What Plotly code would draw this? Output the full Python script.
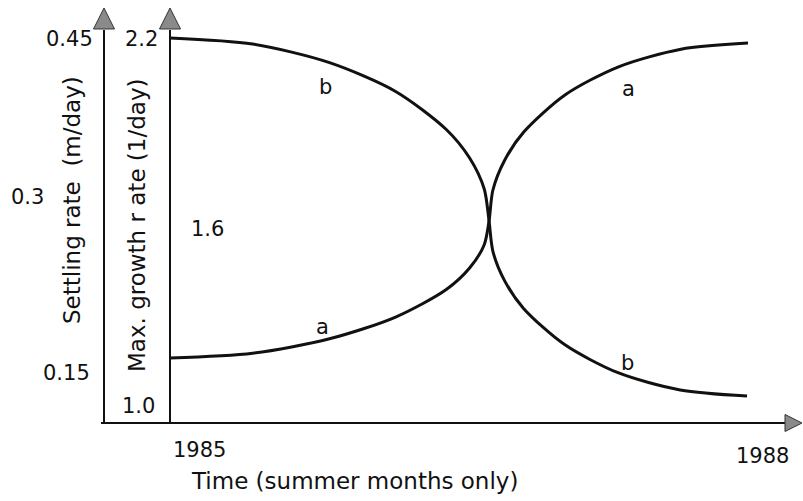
import plotly.graph_objects as go

# ---------------- data ----------------
# curve a : rises from 1985 to 1988 (growth-rate scale, 1/day)
a_time = [1985.000, 1985.429, 1985.828, 1986.171, 1986.434, 1986.556, 1986.631, 1986.656,
          1986.676, 1986.737, 1986.836, 1987.050, 1987.328, 1987.652, 1988.000]
a_value = [1.200, 1.215, 1.260, 1.328, 1.414, 1.482, 1.554, 1.628,
           1.725, 1.818, 1.906, 2.022, 2.110, 2.165, 2.184]
# curve b : falls from 1985 to 1988
b_time = [1985.000, 1985.429, 1985.828, 1986.171, 1986.434, 1986.556, 1986.631, 1986.656,
          1986.676, 1986.737, 1986.835, 1987.048, 1987.325, 1987.648, 1987.995]
b_value = [2.200, 2.181, 2.123, 2.033, 1.914, 1.824, 1.728, 1.628,
           1.533, 1.441, 1.355, 1.242, 1.154, 1.100, 1.081]

curve_names = ["a", "b"]
growth_ticks = ["2.2", "1.6", "1.0"]
settling_ticks = ["0.45", "0.3", "0.15"]
year_ticks = ["1985", "1988"]
x_title = "Time (summer months only)"
settling_title = "Settling rate  (m/day)"
growth_title = "Max. growth r ate (1/day)"

# ---------------- geometry ----------------
W, H = 803, 501
PX_PER_YEAR = 192.67
PX_PER_UNIT = 320.0
X0_PX, Y0_PX = 170.0, 422.0          # pixel of (1985, 1.0)

def px2x(px):
    return 1985 + (px - X0_PX) / PX_PER_YEAR

def py2y(py):
    return 1.0 + (Y0_PX - py) / PX_PER_UNIT

FONT = "DejaVu Sans, Verdana, sans-serif"
FS_TICK = 21
FS_TITLE = 23
BLACK = "#111111"

fig = go.Figure()

# axis lines
outer_x = px2x(104)
inner_x = 1985.0
base_y = py2y(423)
top_y = py2y(8)
right_x = px2x(802)
left_x = px2x(101)

for xs, ys in [([outer_x, outer_x], [base_y, py2y(30)]),
               ([inner_x, inner_x], [base_y, py2y(30)]),
               ([left_x, px2x(788)], [base_y, base_y])]:
    fig.add_trace(go.Scatter(x=xs, y=ys, mode="lines",
                             line=dict(color=BLACK, width=2),
                             hoverinfo="skip", showlegend=False))

# arrow heads
fig.add_trace(go.Scatter(x=[outer_x, inner_x], y=[top_y, top_y], mode="markers",
                         marker=dict(symbol="arrow-up", size=21, color="#8a8a8a",
                                     line=dict(color="#333333", width=1)),
                         cliponaxis=False, hoverinfo="skip", showlegend=False))
fig.add_trace(go.Scatter(x=[right_x], y=[base_y], mode="markers",
                         marker=dict(symbol="arrow-right", size=17, color="#8a8a8a",
                                     line=dict(color="#333333", width=1)),
                         cliponaxis=False, hoverinfo="skip", showlegend=False))

# curves
for name, xs, ys in [("a", a_time, a_value), ("b", b_time, b_value)]:
    fig.add_trace(go.Scatter(x=xs, y=ys, mode="lines", name=name,
                             line=dict(color=BLACK, width=3, shape="spline", smoothing=0.8),
                             showlegend=False))

def label(text, px, py, xanchor="center", yanchor="middle", angle=0, size=FS_TICK):
    fig.add_annotation(x=px / W, y=1 - py / H, xref="paper", yref="paper",
                       text=text, showarrow=False, xanchor=xanchor, yanchor=yanchor,
                       textangle=angle, font=dict(family=FONT, size=size, color=BLACK))

# curve labels
label(curve_names[1], 325, 87)
label(curve_names[0], 322, 327)
label(curve_names[0], 628, 89)
label(curve_names[1], 627, 363)

# growth-rate tick labels
label(growth_ticks[0], 160, 39, xanchor="right")
label(growth_ticks[1], 189, 229, xanchor="left")
label(growth_ticks[2], 157, 406, xanchor="right")
# settling-rate tick labels
label(settling_ticks[0], 95, 39, xanchor="right")
label(settling_ticks[1], 9, 197, xanchor="left")
label(settling_ticks[2], 92, 373, xanchor="right")
# years
label(year_ticks[0], 171, 450, xanchor="left")
label(year_ticks[1], 762, 456)
# titles
label(x_title, 189, 481, xanchor="left", size=FS_TITLE)
label(settling_title, 72, 200, angle=-90, size=FS_TITLE)
label(growth_title, 137, 225, angle=-90, size=FS_TITLE)

fig.update_layout(
    width=W, height=H,
    margin=dict(l=0, r=0, t=0, b=0),
    paper_bgcolor="white", plot_bgcolor="white",
    xaxis=dict(range=[px2x(0), px2x(W)], visible=False, fixedrange=True),
    yaxis=dict(range=[py2y(H), py2y(0)], visible=False, fixedrange=True),
    showlegend=False,
)

fig.write_html("out.html", config={"displayModeBar": False},
               post_script="document.body.style.margin='0px';document.body.style.overflow='hidden';")
